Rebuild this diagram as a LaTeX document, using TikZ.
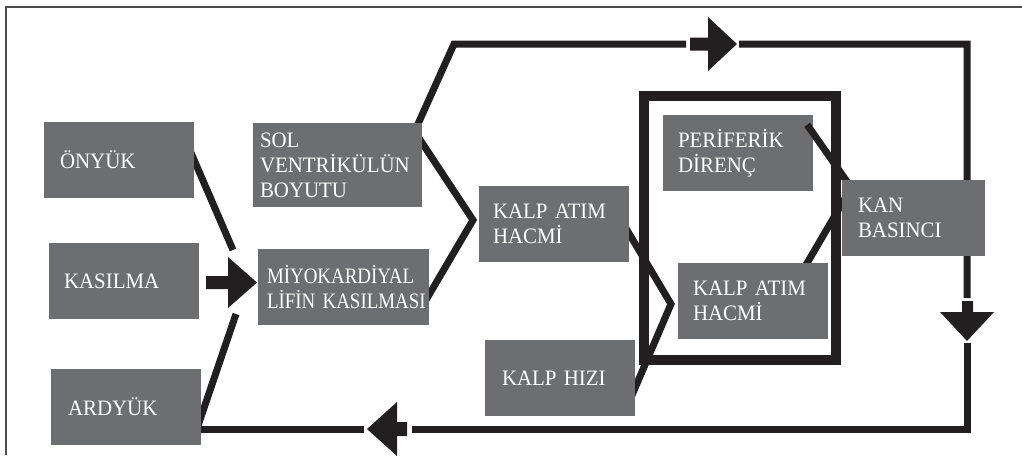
\documentclass[tikz,border=0pt]{standalone}
\usepackage{fontspec}
\setmainfont[FakeStretch=0.95]{Liberation Serif}
\newfontfamily\condfont[FakeStretch=0.86]{Liberation Serif}
\usetikzlibrary{calc}
\definecolor{boxc}{HTML}{6D6E71}
\definecolor{linec}{HTML}{231F20}
\pgfdeclarelayer{bg}\pgfdeclarelayer{top}\pgfsetlayers{bg,main,top}
\begin{document}
\begin{tikzpicture}[x=1pt,y=-1pt,
  box/.style={fill=boxc,text=white,font=\fontsize{22}{25}\selectfont,align=left,inner ysep=0pt,minimum height=76pt},
  ln/.style={draw=linec,line width=7pt,line join=miter},
  framec/.style={draw=linec,line width=10.5pt},
  blk/.style={fill=linec}]
\useasboundingbox (0,0) rectangle (1022,455);
\draw[black!70,line width=1.6pt] (6,455) -- (6,7) -- (1022,7);

% boxes
\node[box,text width=118pt,inner xsep=16pt] (onyuk) at (119,160) {ÖNYÜK};
\node[box,text width=155pt,inner xsep=7pt,minimum height=84pt] (sol) at (337.5,165) {SOL\\\mbox{VENTRİKÜLÜN}\\BOYUTU};
\node[box,text width=122pt,inner xsep=14pt] (kah1) at (554,224) {\mbox{KALP ATIM}\\HACMİ};
\node[box,text width=120pt,inner xsep=15pt] (kasilma) at (124,281) {KASILMA};
\node[box,text width=153pt,inner xsep=9pt] (miyo) at (343.5,287) {\condfont\mbox{MİYOKARDİYAL}\\\mbox{\condfont LİFİN KASILMASI}};
\node[box,text width=116pt,inner xsep=17pt] (ardyuk) at (126,407) {ARDYÜK};
\node[box,text width=116pt,inner xsep=17pt] (hiz) at (560,378) {\mbox{KALP HIZI}};
\node[box,text width=120pt,inner xsep=15pt] (kah2) at (753,301) {\mbox{KALP ATIM}\\HACMİ};
\node[box,text width=120pt,inner xsep=15pt] (peri) at (738,153) {\mbox{PERİFERİK}\\DİRENÇ};
\begin{pgfonlayer}{top}
\node[box,text width=111pt,inner xsep=16pt] (kan) at (913.5,218) {KAN\\BASINCI};
\end{pgfonlayer}

% coordinates
\coordinate (j1) at (233,250);
\coordinate (j2) at (236,314);
\coordinate (v1) at (473,220);
\coordinate (v2) at (671,304);
\coordinate (t1) at (454,44);
\coordinate (t2) at (967,44);
\coordinate (b1) at (967,429);

\begin{pgfonlayer}{bg}
% converging lines
\draw[ln] ($(onyuk.east)+(-4,-9)$) -- (j1);
\draw[ln] ($(ardyuk.east)+(-4,21)$) -- (j2);
\draw[ln] ($(sol.east)+(-4,-28)$) -- (v1) -- ($(miyo.east)+(-5,16)$);
\draw[ln] ($(kah1.east)+(-7,-2)$) -- (v2) -- ($(hiz.east)+(-4,19)$);
\draw[ln] ($(kah2.north east)+(-28,12)$) -- ($(kan.west)+(4,-21)$);
% thick frame
\draw[framec] (644,96) rectangle (836,360);
% loop
\draw[ln] ($(sol.north east)+(-10,14)$) -- (t1) -- (686,44);
\draw[ln] (739,44) -- (t2) -- ($(kan.north east)+(-18,2)$);
\draw[ln] ($(kan.south east)+(-18,-2)$) -- (967,298);
\draw[ln] (967,343) -- (b1) -- (412,429);
\draw[ln] (364,429) -- ($(ardyuk.east)+(-2,22)$);
\end{pgfonlayer}

% line over PERIFERIK, under KAN
\draw[ln] ($(peri.north east)+(-6,10)$) -- ($(kan.north west)+(6,3)$);

% block arrows
\fill[blk] (206,276) -- (228,276) -- (228,257) -- (257,282.5) -- (228,308) -- (228,289) -- (206,289) -- cycle;
\fill[blk] (690,37.5) -- (708,37.5) -- (708,17) -- (737,44) -- (708,71) -- (708,50.5) -- (690,50.5) -- cycle;
\fill[blk] (962,301) -- (962,312) -- (940,312) -- (967,341) -- (994,312) -- (973,312) -- (973,301) -- cycle;
\fill[blk] (407,422) -- (397,422) -- (397,402) -- (367,429) -- (397,456) -- (397,436) -- (407,436) -- cycle;
\end{tikzpicture}
\end{document}
